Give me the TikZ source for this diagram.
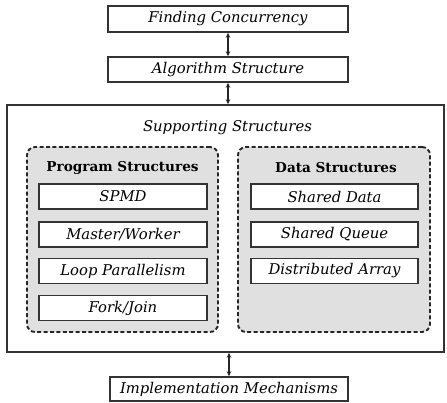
\documentclass[tikz,border=0pt]{standalone}
\usepackage{fontspec}
\setmainfont{DejaVu Serif}
\usetikzlibrary{arrows.meta}
\tikzset{
  labelfont/.style={font=\fontsize{14.8}{17}\selectfont\itshape},
  box/.style={draw=black!80, line width=1.5pt, fill=white, inner sep=0pt, labelfont},
  groupbox/.style={draw=black!85, line width=1.9pt, dash pattern=on 4pt off 2.4pt,
    rounded corners=8pt, fill=black!12},
  outer/.style={draw=black!80, line width=1.5pt},
  heading/.style={font=\fontsize{13.6}{16}\selectfont\bfseries, inner sep=0pt},
  link/.style={line width=1.2pt, draw=black!85,
    {Stealth[length=5pt,width=4.5pt]}-{Stealth[length=5pt,width=4.5pt]}}
}
\begin{document}
\begin{tikzpicture}[x=1pt, y=-1pt]
\useasboundingbox (0,0) rectangle (447,402);

% top chain
\node[box, minimum width=240pt, minimum height=26pt] (fc) at (228,19) {Finding Concurrency};
\node[box, minimum width=240pt, minimum height=25pt] (as) at (228,69.5) {Algorithm Structure};

% supporting structures frame
\node[outer, minimum width=437pt, minimum height=247pt, inner sep=0pt] (ss) at (225.5,228.5) {};
\node[labelfont, inner sep=0pt] (sst) at (227.5,128) {Supporting Structures};

% groups
\node[groupbox, minimum width=191pt, minimum height=185pt, inner sep=0pt] (pg) at (122.5,239.5) {};
\node[groupbox, minimum width=192pt, minimum height=185pt, inner sep=0pt] (dg) at (334,239.5) {};
\node[heading] (pgt) at (122.5,168) {Program Structures};
\node[heading] (dgt) at (336,168) {Data Structures};

% program structures
\node[box, minimum width=168pt, minimum height=25pt] (p1) at (123,196.5) {SPMD};
\node[box, minimum width=168pt, minimum height=25pt] (p2) at (123,234.5) {Master/Worker};
\node[box, minimum width=168pt, minimum height=25pt] (p3) at (123,271) {Loop Parallelism};
\node[box, minimum width=168pt, minimum height=25pt] (p4) at (123,308) {Fork/Join};

% data structures
\node[box, minimum width=167pt, minimum height=25pt] (d1) at (334.5,196.5) {Shared Data};
\node[box, minimum width=167pt, minimum height=25pt] (d2) at (334.5,234.5) {Shared Queue};
\node[box, minimum width=167pt, minimum height=25pt] (d3) at (334.5,271) {Distributed Array};

% bottom
\node[box, minimum width=238pt, minimum height=24pt] (im) at (229,389) {Implementation Mechanisms};

% connectors
\draw[link] (fc.south -| 228,0) -- (as.north -| 228,0);
\draw[link] (as.south -| 228,0) -- (ss.north -| 228,0);
\draw[link] (ss.south -| 229,0) -- (im.north -| 229,0);
\end{tikzpicture}
\end{document}
